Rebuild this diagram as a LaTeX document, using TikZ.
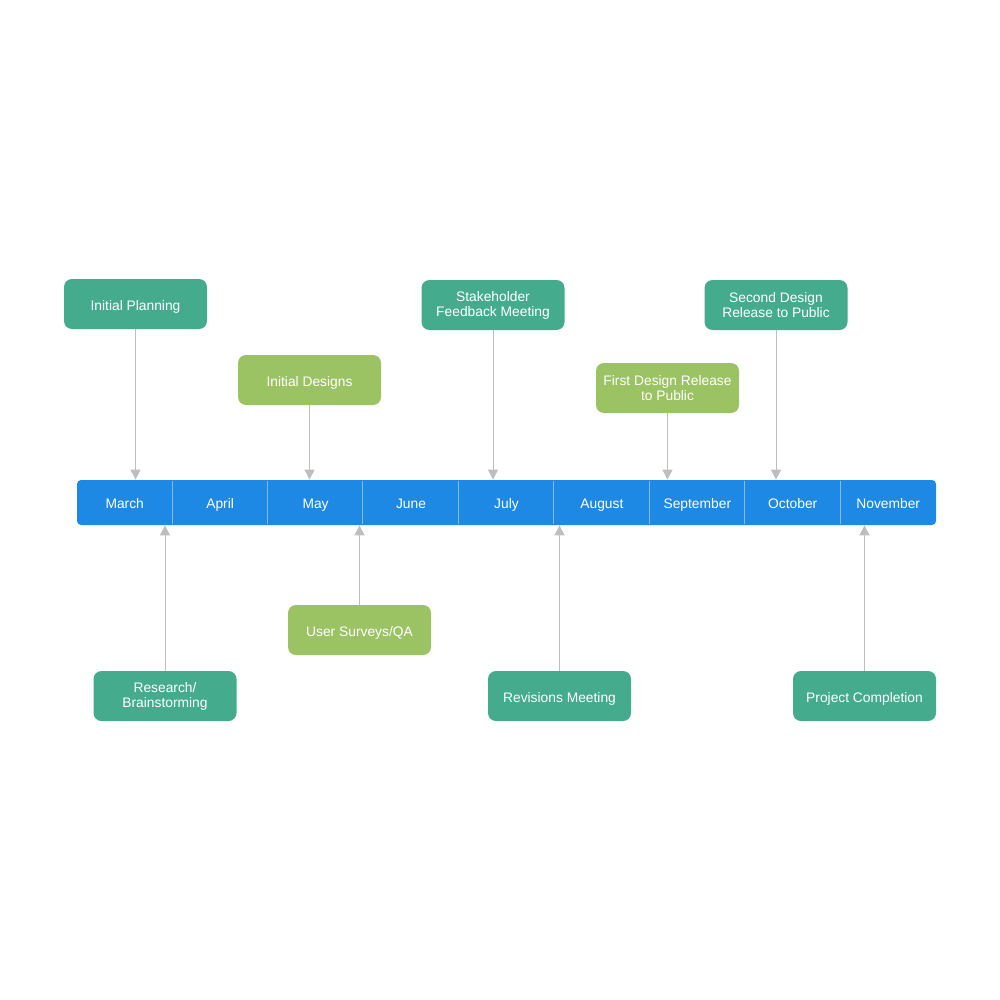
\documentclass[tikz,border=0pt]{standalone}
\usepackage{fontspec}
\setmainfont{Liberation Sans}
\usetikzlibrary{arrows.meta}
\definecolor{evteal}{RGB}{69,171,141}
\definecolor{evgreen}{RGB}{155,195,100}
\definecolor{barblue}{RGB}{30,136,229}
\definecolor{divblue}{RGB}{130,186,240}
\definecolor{linkgray}{RGB}{190,190,190}
\begin{document}
\begin{tikzpicture}[x=0.5pt, y=-0.5pt, font=\fontsize{6.9}{7.5}\selectfont,
    event/.style = {rounded corners=4pt, minimum width=71.5pt, minimum height=25pt, inner sep=0pt, text=white, align=center},
    main/.style = {event, fill=evteal},
    draft/.style = {event, fill=evgreen},
    oneline/.style = {text height=1.55ex, text depth=0.35ex},
    month/.style = {oneline, text=white, minimum width=47.72pt, minimum height=22.5pt, inner sep=0pt},
    link/.style = {draw=linkgray, line width=0.5pt, -{Triangle[width=5pt, length=5pt]}}]
    \useasboundingbox (0,0) rectangle (1000,1000);
    % timeline bar
    \node[fill=barblue, rounded corners=2pt, minimum width=429.5pt, minimum height=22.5pt, inner sep=0pt] (bar) at (506.5,502.5) {};
    \foreach \m [count=\i from 0] in {March, April, May, June, July, August, September, October, November}
        \node[month] (m\i) at (124.7+\i*95.44, 502.5) {\m};
    \foreach \i in {1,...,8}
        \draw[divblue, line width=0.5pt] ([yshift=-0.5pt]m\i.north west) -- ([yshift=0.5pt]m\i.south west);
    % events above
    \node[main, oneline] (plan) at (135.5,304) {Initial Planning};
    \node[draft, oneline] (designs) at (309.5,380) {Initial Designs};
    \node[main] (stake) at (493,305) {Stakeholder\\Feedback Meeting};
    \node[draft] (first) at (667.5,388) {First Design Release\\to Public};
    \node[main] (second) at (776,305) {Second Design\\Release to Public};
    % events below
    \node[main] (research) at (165,696) {Research/\\Brainstorming};
    \node[draft, oneline] (survey) at (359.5,630) {User Surveys/QA};
    \node[main, oneline] (revise) at (559.5,696) {Revisions Meeting};
    \node[main, oneline] (done) at (864.5,696) {Project Completion};
    \foreach \e in {plan, designs, stake, first, second}
        \draw[link] (\e) -- (\e |- bar.north);
    \foreach \e in {research, survey, revise, done}
        \draw[link] (\e) -- (\e |- bar.south);
\end{tikzpicture}
\end{document}
